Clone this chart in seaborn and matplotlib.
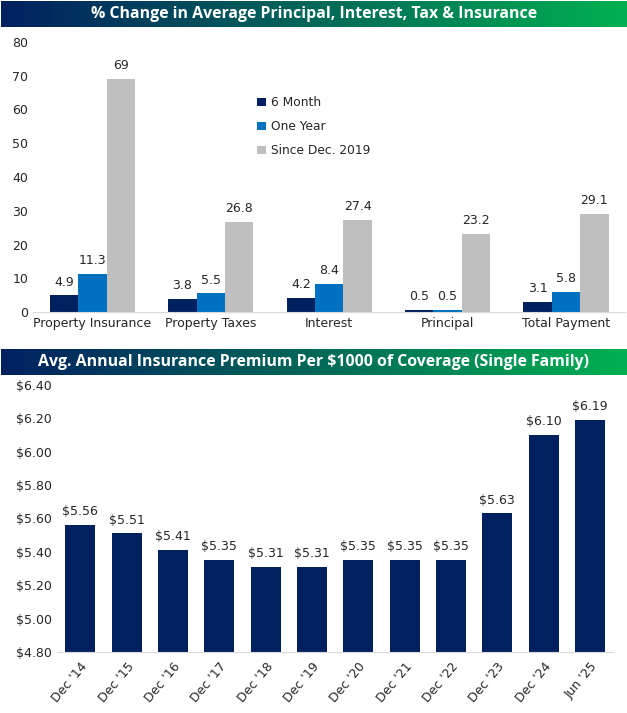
import numpy as np
import pandas as pd
import matplotlib
matplotlib.use("Agg")
import matplotlib.pyplot as plt
import seaborn as sns
from matplotlib.colors import LinearSegmentedColormap

# -----------------------------
# Data
# -----------------------------
components = ["Property Insurance", "Property Taxes", "Interest", "Principal", "Total Payment"]
periods = ["6 Month", "One Year", "Since Dec. 2019"]
six_month = [4.9, 3.8, 4.2, 0.5, 3.1]
one_year = [11.3, 5.5, 8.4, 0.5, 5.8]
since_2019 = [69, 26.8, 27.4, 23.2, 29.1]

dates = ["Dec '14", "Dec '15", "Dec '16", "Dec '17", "Dec '18", "Dec '19",
         "Dec '20", "Dec '21", "Dec '22", "Dec '23", "Dec '24", "Jun '25"]
premium = [5.56, 5.51, 5.41, 5.35, 5.31, 5.31, 5.35, 5.35, 5.35, 5.63, 6.10, 6.19]

NAVY = "#002060"
BLUE = "#0070C0"
GREY = "#BFBFBF"

sns.set_style("white")
plt.rcParams["font.family"] = ["DejaVu Sans"]

fig = plt.figure(figsize=(6.27, 7.13), dpi=100)

grad = LinearSegmentedColormap.from_list("hdr", [NAVY, "#00B050"])


def title_bar(y_bottom, text):
    ax = fig.add_axes([0.0016, y_bottom, 0.997, 0.0365])
    ax.imshow(np.linspace(0, 1, 256).reshape(1, -1), aspect="auto", cmap=grad,
              extent=[0, 1, 0, 1])
    ax.text(0.5, 0.5, text, color="white", fontsize=11.4, fontweight="bold",
            ha="center", va="center", family=["Open Sans", "DejaVu Sans"])
    ax.set_axis_off()


title_bar(0.962, "% Change in Average Principal, Interest, Tax & Insurance")
title_bar(0.474, "Avg. Annual Insurance Premium Per $1000 of Coverage (Single Family)")

# -----------------------------
# Top chart
# -----------------------------
df_top = pd.DataFrame({
    "component": components * 3,
    "period": [periods[0]] * 5 + [periods[1]] * 5 + [periods[2]] * 5,
    "value": six_month + one_year + since_2019,
})

ax1 = fig.add_axes([0.053, 0.5624, 0.944, 0.3787])
sns.barplot(data=df_top, x="component", y="value", hue="period",
            palette=[NAVY, BLUE, GREY], width=0.72, gap=0, saturation=1,
            linewidth=0, ax=ax1)
for cont in ax1.containers:
    ax1.bar_label(cont, fmt="%g", padding=5, fontsize=9)
ax1.set_ylim(0, 80)
ax1.set_yticks(range(0, 81, 10))
ax1.set_xlim(-0.5, 4.5)
ax1.set_xlabel("")
ax1.set_ylabel("")
ax1.tick_params(axis="both", labelsize=9, length=0)
for s in ["top", "right", "left"]:
    ax1.spines[s].set_visible(False)
ax1.spines["bottom"].set_color("#D9D9D9")
ax1.legend(loc="upper left", bbox_to_anchor=(0.36, 0.84), frameon=False,
           fontsize=8.8, handlelength=0.7, handleheight=0.7, labelspacing=0.9,
           handletextpad=0.4)

# -----------------------------
# Bottom chart
# -----------------------------
df_bot = pd.DataFrame({"date": dates, "premium": premium})

ax2 = fig.add_axes([0.091, 0.0856, 0.887, 0.3745])
sns.barplot(data=df_bot, x="date", y="premium", color=NAVY, width=0.65,
            saturation=1, linewidth=0, ax=ax2)
ax2.bar_label(ax2.containers[0], labels=[f"${v:.2f}" for v in premium],
              padding=5, fontsize=9)
ax2.set_ylim(4.8, 6.4)
ax2.set_yticks(np.arange(4.8, 6.41, 0.2))
ax2.set_yticklabels([f"${v:.2f}" for v in np.arange(4.8, 6.41, 0.2)])
ax2.set_xlim(-0.5, len(dates) - 0.5)
ax2.set_xlabel("")
ax2.set_ylabel("")
ax2.tick_params(axis="y", labelsize=9, length=0)
ax2.tick_params(axis="x", labelsize=9, length=0, rotation=50, pad=6)
for lab in ax2.get_xticklabels():
    lab.set_ha("right")
    lab.set_rotation_mode("anchor")
ax2.set_xticks(np.arange(-0.5, len(dates), 1), minor=True)
ax2.tick_params(axis="x", which="minor", length=4, color="#D9D9D9")
for s in ["top", "right", "left"]:
    ax2.spines[s].set_visible(False)
ax2.spines["bottom"].set_color("#D9D9D9")

fig.savefig("out.png", dpi=100)
